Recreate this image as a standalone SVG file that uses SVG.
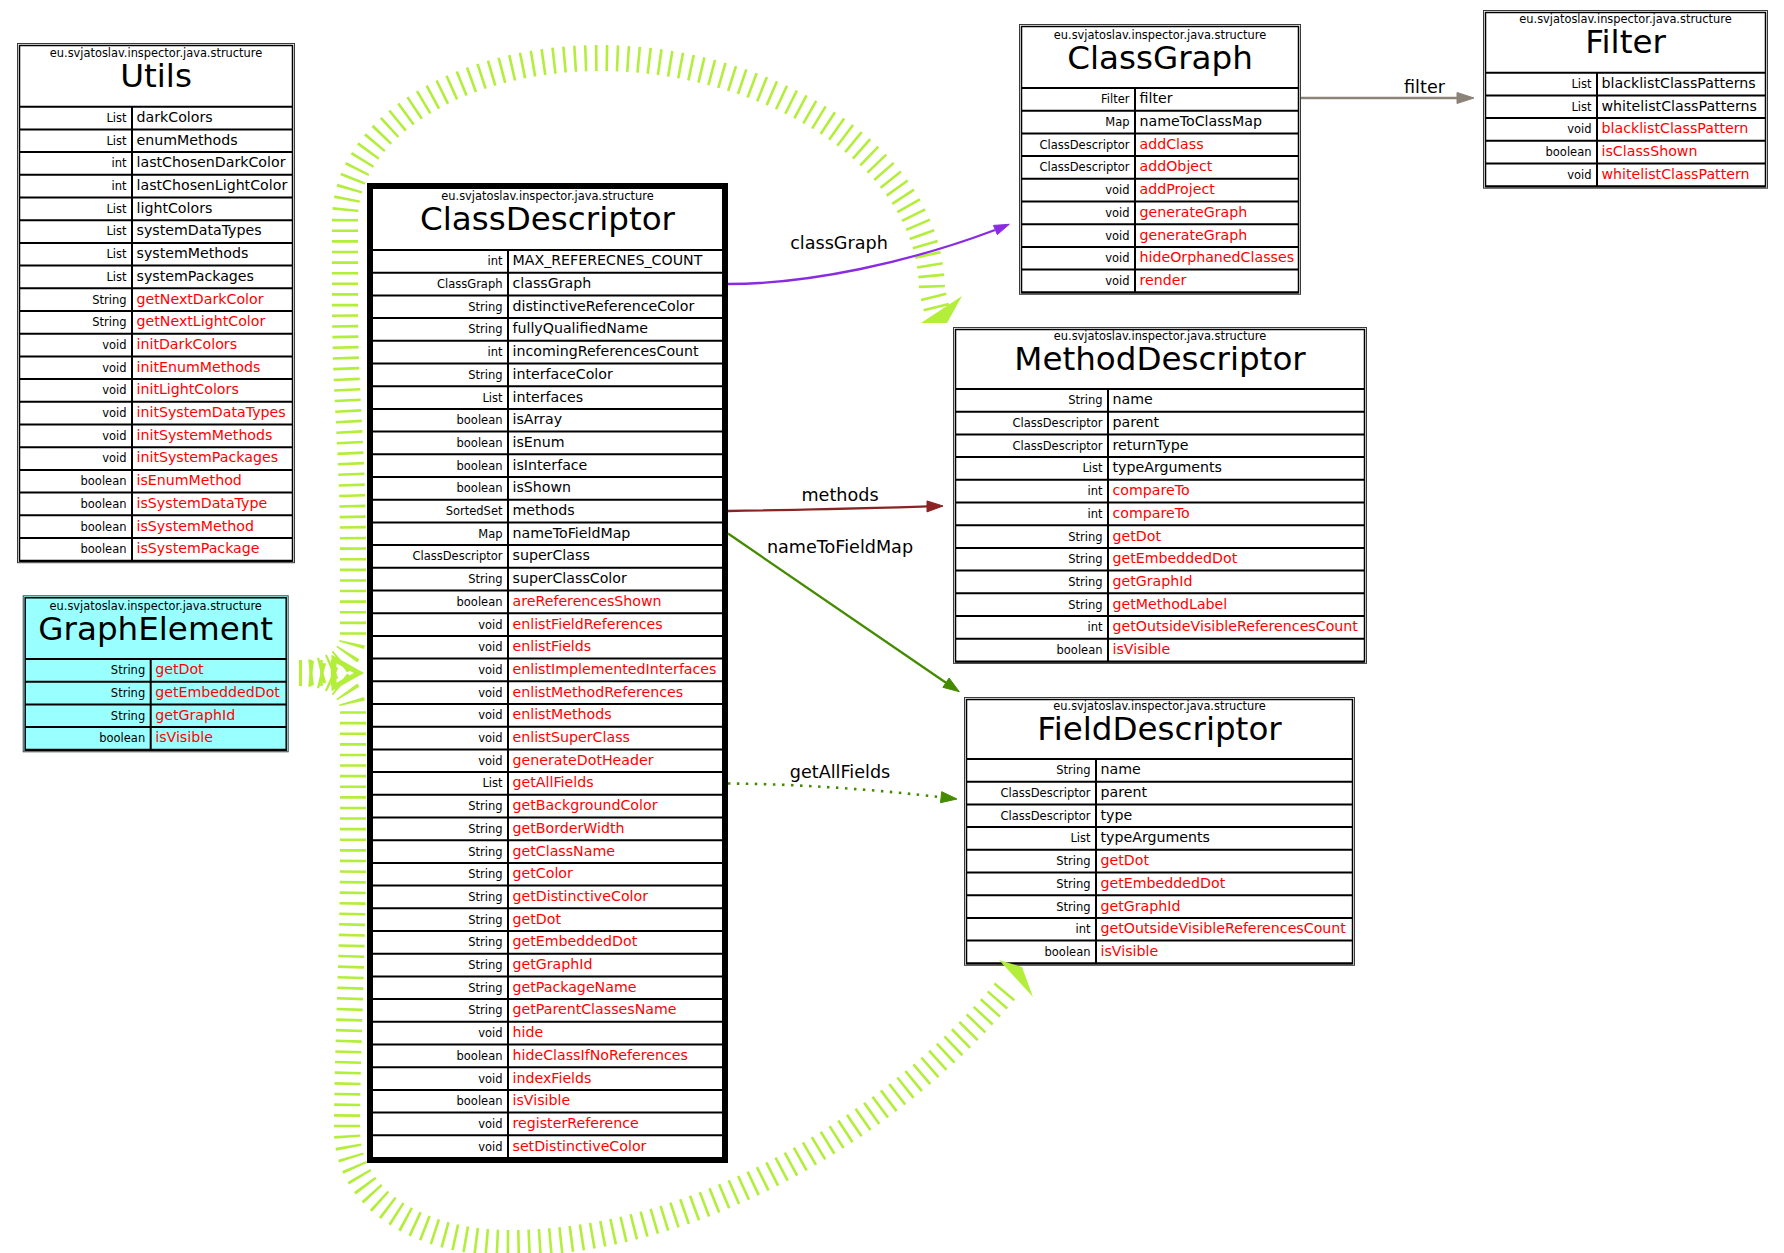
<svg xmlns="http://www.w3.org/2000/svg" width="1784" height="1253" viewBox="0 0 1784 1253">
<style>
text{font-family:"DejaVu Sans","Liberation Sans",sans-serif;fill:#000}
.pk{font-size:11.4px;text-anchor:middle}
.ti{font-size:32.6px;text-anchor:middle}
.ty{font-size:11.5px;text-anchor:end}
.nm{font-size:14.2px}
text.r{fill:#ff0000}
.ob{fill:none;stroke:#3a3a3a;stroke-width:1}
.ib{fill:none;stroke:#000;stroke-width:1.5}
.rl{fill:none;stroke:#000;stroke-width:2}
.el{font-size:17.6px;text-anchor:middle}
.ih{fill:none;stroke:#b3ee3a;stroke-width:26;stroke-dasharray:2.6 8}
.e{fill:none;stroke-width:2.3}
</style>
<rect width="1784" height="1253" fill="#fff"/>

<g id="node-utils" transform="translate(132,106.7)">
<rect class="ob" x="-114.5" y="-63.2" width="277" height="519.2"/>
<rect class="ib" x="-112.5" y="-61.2" width="273" height="515.7"/>
<path class="rl" d="M-112.5 0h273m-273 22.7h273m-273 22.7h273m-273 22.7h273m-273 22.7h273m-273 22.7h273m-273 22.7h273m-273 22.7h273m-273 22.7h273m-273 22.7h273m-273 22.7h273m-273 22.7h273m-273 22.7h273m-273 22.7h273m-273 22.7h273m-273 22.7h273m-273 22.7h273m-273 22.7h273m-273 22.7h273m-273 22.7h273m-273 22.7h273M0 0V454"/>
<text class="pk" x="24" y="-49.5">eu.svjatoslav.inspector.java.structure</text>
<text class="ti" x="24" y="-19.5">Utils</text>
<text class="ty" x="-5.5" y="15.3">List</text><text class="nm" x="4.5" y="15.3">darkColors</text>
<text class="ty" x="-5.5" y="38">List</text><text class="nm" x="4.5" y="38">enumMethods</text>
<text class="ty" x="-5.5" y="60.7">int</text><text class="nm" x="4.5" y="60.7">lastChosenDarkColor</text>
<text class="ty" x="-5.5" y="83.4">int</text><text class="nm" x="4.5" y="83.4">lastChosenLightColor</text>
<text class="ty" x="-5.5" y="106.1">List</text><text class="nm" x="4.5" y="106.1">lightColors</text>
<text class="ty" x="-5.5" y="128.8">List</text><text class="nm" x="4.5" y="128.8">systemDataTypes</text>
<text class="ty" x="-5.5" y="151.5">List</text><text class="nm" x="4.5" y="151.5">systemMethods</text>
<text class="ty" x="-5.5" y="174.2">List</text><text class="nm" x="4.5" y="174.2">systemPackages</text>
<text class="ty" x="-5.5" y="196.9">String</text><text class="nm r" x="4.5" y="196.9">getNextDarkColor</text>
<text class="ty" x="-5.5" y="219.6">String</text><text class="nm r" x="4.5" y="219.6">getNextLightColor</text>
<text class="ty" x="-5.5" y="242.3">void</text><text class="nm r" x="4.5" y="242.3">initDarkColors</text>
<text class="ty" x="-5.5" y="265">void</text><text class="nm r" x="4.5" y="265">initEnumMethods</text>
<text class="ty" x="-5.5" y="287.7">void</text><text class="nm r" x="4.5" y="287.7">initLightColors</text>
<text class="ty" x="-5.5" y="310.4">void</text><text class="nm r" x="4.5" y="310.4">initSystemDataTypes</text>
<text class="ty" x="-5.5" y="333.1">void</text><text class="nm r" x="4.5" y="333.1">initSystemMethods</text>
<text class="ty" x="-5.5" y="355.8">void</text><text class="nm r" x="4.5" y="355.8">initSystemPackages</text>
<text class="ty" x="-5.5" y="378.5">boolean</text><text class="nm r" x="4.5" y="378.5">isEnumMethod</text>
<text class="ty" x="-5.5" y="401.2">boolean</text><text class="nm r" x="4.5" y="401.2">isSystemDataType</text>
<text class="ty" x="-5.5" y="423.9">boolean</text><text class="nm r" x="4.5" y="423.9">isSystemMethod</text>
<text class="ty" x="-5.5" y="446.6">boolean</text><text class="nm r" x="4.5" y="446.6">isSystemPackage</text>
</g>

<g id="node-graphelement" transform="translate(150.7,659)">
<rect x="-127.5" y="-63.2" width="265" height="156" fill="#99ffff" stroke="#3a4a4a" stroke-width="1"/>
<rect class="ib" x="-125.5" y="-61.2" width="261" height="152.5"/>
<path class="rl" d="M-125.5 0h261m-261 22.7h261m-261 22.7h261m-261 22.7h261m-261 22.7h261M0 0V90.8"/>
<text class="pk" x="5" y="-49.5">eu.svjatoslav.inspector.java.structure</text>
<text class="ti" x="5" y="-19.5">GraphElement</text>
<text class="ty" x="-5.5" y="15.3">String</text><text class="nm r" x="4.5" y="15.3">getDot</text>
<text class="ty" x="-5.5" y="38">String</text><text class="nm r" x="4.5" y="38">getEmbeddedDot</text>
<text class="ty" x="-5.5" y="60.7">String</text><text class="nm r" x="4.5" y="60.7">getGraphId</text>
<text class="ty" x="-5.5" y="83.4">boolean</text><text class="nm r" x="4.5" y="83.4">isVisible</text>
</g>

<g id="node-classdescriptor" transform="translate(508,250)">
<rect x="-138" y="-64" width="355" height="974" fill="none" stroke="#000" stroke-width="6"/>
<path class="rl" d="M-135 0h349m-349 22.7h349m-349 22.7h349m-349 22.7h349m-349 22.7h349m-349 22.7h349m-349 22.7h349m-349 22.7h349m-349 22.7h349m-349 22.7h349m-349 22.7h349m-349 22.7h349m-349 22.7h349m-349 22.7h349m-349 22.7h349m-349 22.7h349m-349 22.7h349m-349 22.7h349m-349 22.7h349m-349 22.7h349m-349 22.7h349m-349 22.7h349m-349 22.7h349m-349 22.7h349m-349 22.7h349m-349 22.7h349m-349 22.7h349m-349 22.7h349m-349 22.7h349m-349 22.7h349m-349 22.7h349m-349 22.7h349m-349 22.7h349m-349 22.7h349m-349 22.7h349m-349 22.7h349m-349 22.7h349m-349 22.7h349m-349 22.7h349m-349 22.7h349m-349 22.7h349M0 0V908"/>
<text class="pk" x="39.5" y="-49.8">eu.svjatoslav.inspector.java.structure</text>
<text class="ti" x="39.5" y="-19.6">ClassDescriptor</text>
<text class="ty" x="-5.5" y="15.3">int</text><text class="nm" x="4.5" y="15.3">MAX_REFERECNES_COUNT</text>
<text class="ty" x="-5.5" y="38">ClassGraph</text><text class="nm" x="4.5" y="38">classGraph</text>
<text class="ty" x="-5.5" y="60.7">String</text><text class="nm" x="4.5" y="60.7">distinctiveReferenceColor</text>
<text class="ty" x="-5.5" y="83.4">String</text><text class="nm" x="4.5" y="83.4">fullyQualifiedName</text>
<text class="ty" x="-5.5" y="106.1">int</text><text class="nm" x="4.5" y="106.1">incomingReferencesCount</text>
<text class="ty" x="-5.5" y="128.8">String</text><text class="nm" x="4.5" y="128.8">interfaceColor</text>
<text class="ty" x="-5.5" y="151.5">List</text><text class="nm" x="4.5" y="151.5">interfaces</text>
<text class="ty" x="-5.5" y="174.2">boolean</text><text class="nm" x="4.5" y="174.2">isArray</text>
<text class="ty" x="-5.5" y="196.9">boolean</text><text class="nm" x="4.5" y="196.9">isEnum</text>
<text class="ty" x="-5.5" y="219.6">boolean</text><text class="nm" x="4.5" y="219.6">isInterface</text>
<text class="ty" x="-5.5" y="242.3">boolean</text><text class="nm" x="4.5" y="242.3">isShown</text>
<text class="ty" x="-5.5" y="265">SortedSet</text><text class="nm" x="4.5" y="265">methods</text>
<text class="ty" x="-5.5" y="287.7">Map</text><text class="nm" x="4.5" y="287.7">nameToFieldMap</text>
<text class="ty" x="-5.5" y="310.4">ClassDescriptor</text><text class="nm" x="4.5" y="310.4">superClass</text>
<text class="ty" x="-5.5" y="333.1">String</text><text class="nm" x="4.5" y="333.1">superClassColor</text>
<text class="ty" x="-5.5" y="355.8">boolean</text><text class="nm r" x="4.5" y="355.8">areReferencesShown</text>
<text class="ty" x="-5.5" y="378.5">void</text><text class="nm r" x="4.5" y="378.5">enlistFieldReferences</text>
<text class="ty" x="-5.5" y="401.2">void</text><text class="nm r" x="4.5" y="401.2">enlistFields</text>
<text class="ty" x="-5.5" y="423.9">void</text><text class="nm r" x="4.5" y="423.9">enlistImplementedInterfaces</text>
<text class="ty" x="-5.5" y="446.6">void</text><text class="nm r" x="4.5" y="446.6">enlistMethodReferences</text>
<text class="ty" x="-5.5" y="469.3">void</text><text class="nm r" x="4.5" y="469.3">enlistMethods</text>
<text class="ty" x="-5.5" y="492">void</text><text class="nm r" x="4.5" y="492">enlistSuperClass</text>
<text class="ty" x="-5.5" y="514.7">void</text><text class="nm r" x="4.5" y="514.7">generateDotHeader</text>
<text class="ty" x="-5.5" y="537.4">List</text><text class="nm r" x="4.5" y="537.4">getAllFields</text>
<text class="ty" x="-5.5" y="560.1">String</text><text class="nm r" x="4.5" y="560.1">getBackgroundColor</text>
<text class="ty" x="-5.5" y="582.8">String</text><text class="nm r" x="4.5" y="582.8">getBorderWidth</text>
<text class="ty" x="-5.5" y="605.5">String</text><text class="nm r" x="4.5" y="605.5">getClassName</text>
<text class="ty" x="-5.5" y="628.2">String</text><text class="nm r" x="4.5" y="628.2">getColor</text>
<text class="ty" x="-5.5" y="650.9">String</text><text class="nm r" x="4.5" y="650.9">getDistinctiveColor</text>
<text class="ty" x="-5.5" y="673.6">String</text><text class="nm r" x="4.5" y="673.6">getDot</text>
<text class="ty" x="-5.5" y="696.3">String</text><text class="nm r" x="4.5" y="696.3">getEmbeddedDot</text>
<text class="ty" x="-5.5" y="719">String</text><text class="nm r" x="4.5" y="719">getGraphId</text>
<text class="ty" x="-5.5" y="741.7">String</text><text class="nm r" x="4.5" y="741.7">getPackageName</text>
<text class="ty" x="-5.5" y="764.4">String</text><text class="nm r" x="4.5" y="764.4">getParentClassesName</text>
<text class="ty" x="-5.5" y="787.1">void</text><text class="nm r" x="4.5" y="787.1">hide</text>
<text class="ty" x="-5.5" y="809.8">boolean</text><text class="nm r" x="4.5" y="809.8">hideClassIfNoReferences</text>
<text class="ty" x="-5.5" y="832.5">void</text><text class="nm r" x="4.5" y="832.5">indexFields</text>
<text class="ty" x="-5.5" y="855.2">boolean</text><text class="nm r" x="4.5" y="855.2">isVisible</text>
<text class="ty" x="-5.5" y="877.9">void</text><text class="nm r" x="4.5" y="877.9">registerReference</text>
<text class="ty" x="-5.5" y="900.6">void</text><text class="nm r" x="4.5" y="900.6">setDistinctiveColor</text>
</g>

<g id="node-classgraph" transform="translate(1135,88)">
<rect class="ob" x="-115.5" y="-63.5" width="281" height="269.8"/>
<rect class="ib" x="-113.5" y="-61.5" width="277" height="266.3"/>
<path class="rl" d="M-113.5 0h277m-277 22.7h277m-277 22.7h277m-277 22.7h277m-277 22.7h277m-277 22.7h277m-277 22.7h277m-277 22.7h277m-277 22.7h277m-277 22.7h277M0 0V204.3"/>
<text class="pk" x="25" y="-49.5">eu.svjatoslav.inspector.java.structure</text>
<text class="ti" x="25" y="-19.5">ClassGraph</text>
<text class="ty" x="-5.5" y="15.3">Filter</text><text class="nm" x="4.5" y="15.3">filter</text>
<text class="ty" x="-5.5" y="38">Map</text><text class="nm" x="4.5" y="38">nameToClassMap</text>
<text class="ty" x="-5.5" y="60.7">ClassDescriptor</text><text class="nm r" x="4.5" y="60.7">addClass</text>
<text class="ty" x="-5.5" y="83.4">ClassDescriptor</text><text class="nm r" x="4.5" y="83.4">addObject</text>
<text class="ty" x="-5.5" y="106.1">void</text><text class="nm r" x="4.5" y="106.1">addProject</text>
<text class="ty" x="-5.5" y="128.8">void</text><text class="nm r" x="4.5" y="128.8">generateGraph</text>
<text class="ty" x="-5.5" y="151.5">void</text><text class="nm r" x="4.5" y="151.5">generateGraph</text>
<text class="ty" x="-5.5" y="174.2">void</text><text class="nm r" x="4.5" y="174.2">hideOrphanedClasses</text>
<text class="ty" x="-5.5" y="196.9">void</text><text class="nm r" x="4.5" y="196.9">render</text>
</g>

<g id="node-filter" transform="translate(1597,72.7)">
<rect class="ob" x="-113.5" y="-62.2" width="284" height="177.7"/>
<rect class="ib" x="-111.5" y="-60.2" width="280" height="174.2"/>
<path class="rl" d="M-111.5 0h280m-280 22.7h280m-280 22.7h280m-280 22.7h280m-280 22.7h280m-280 22.7h280M0 0V113.5"/>
<text class="pk" x="28.5" y="-49.5">eu.svjatoslav.inspector.java.structure</text>
<text class="ti" x="28.5" y="-19.5">Filter</text>
<text class="ty" x="-5.5" y="15.3">List</text><text class="nm" x="4.5" y="15.3">blacklistClassPatterns</text>
<text class="ty" x="-5.5" y="38">List</text><text class="nm" x="4.5" y="38">whitelistClassPatterns</text>
<text class="ty" x="-5.5" y="60.7">void</text><text class="nm r" x="4.5" y="60.7">blacklistClassPattern</text>
<text class="ty" x="-5.5" y="83.4">boolean</text><text class="nm r" x="4.5" y="83.4">isClassShown</text>
<text class="ty" x="-5.5" y="106.1">void</text><text class="nm r" x="4.5" y="106.1">whitelistClassPattern</text>
</g>

<g id="node-methoddescriptor" transform="translate(1108,389)">
<rect class="ob" x="-154.5" y="-61.5" width="413" height="335.9"/>
<rect class="ib" x="-152.5" y="-59.5" width="409" height="332.4"/>
<path class="rl" d="M-152.5 0h409m-409 22.7h409m-409 22.7h409m-409 22.7h409m-409 22.7h409m-409 22.7h409m-409 22.7h409m-409 22.7h409m-409 22.7h409m-409 22.7h409m-409 22.7h409m-409 22.7h409m-409 22.7h409M0 0V272.4"/>
<text class="pk" x="52" y="-49.5">eu.svjatoslav.inspector.java.structure</text>
<text class="ti" x="52" y="-19.5">MethodDescriptor</text>
<text class="ty" x="-5.5" y="15.3">String</text><text class="nm" x="4.5" y="15.3">name</text>
<text class="ty" x="-5.5" y="38">ClassDescriptor</text><text class="nm" x="4.5" y="38">parent</text>
<text class="ty" x="-5.5" y="60.7">ClassDescriptor</text><text class="nm" x="4.5" y="60.7">returnType</text>
<text class="ty" x="-5.5" y="83.4">List</text><text class="nm" x="4.5" y="83.4">typeArguments</text>
<text class="ty" x="-5.5" y="106.1">int</text><text class="nm r" x="4.5" y="106.1">compareTo</text>
<text class="ty" x="-5.5" y="128.8">int</text><text class="nm r" x="4.5" y="128.8">compareTo</text>
<text class="ty" x="-5.5" y="151.5">String</text><text class="nm r" x="4.5" y="151.5">getDot</text>
<text class="ty" x="-5.5" y="174.2">String</text><text class="nm r" x="4.5" y="174.2">getEmbeddedDot</text>
<text class="ty" x="-5.5" y="196.9">String</text><text class="nm r" x="4.5" y="196.9">getGraphId</text>
<text class="ty" x="-5.5" y="219.6">String</text><text class="nm r" x="4.5" y="219.6">getMethodLabel</text>
<text class="ty" x="-5.5" y="242.3">int</text><text class="nm r" x="4.5" y="242.3">getOutsideVisibleReferencesCount</text>
<text class="ty" x="-5.5" y="265">boolean</text><text class="nm r" x="4.5" y="265">isVisible</text>
</g>

<g id="node-fielddescriptor" transform="translate(1096,759)">
<rect class="ob" x="-131.5" y="-61.5" width="390" height="267.8"/>
<rect class="ib" x="-129.5" y="-59.5" width="386" height="264.3"/>
<path class="rl" d="M-129.5 0h386m-386 22.7h386m-386 22.7h386m-386 22.7h386m-386 22.7h386m-386 22.7h386m-386 22.7h386m-386 22.7h386m-386 22.7h386m-386 22.7h386M0 0V204.3"/>
<text class="pk" x="63.5" y="-49.5">eu.svjatoslav.inspector.java.structure</text>
<text class="ti" x="63.5" y="-19.5">FieldDescriptor</text>
<text class="ty" x="-5.5" y="15.3">String</text><text class="nm" x="4.5" y="15.3">name</text>
<text class="ty" x="-5.5" y="38">ClassDescriptor</text><text class="nm" x="4.5" y="38">parent</text>
<text class="ty" x="-5.5" y="60.7">ClassDescriptor</text><text class="nm" x="4.5" y="60.7">type</text>
<text class="ty" x="-5.5" y="83.4">List</text><text class="nm" x="4.5" y="83.4">typeArguments</text>
<text class="ty" x="-5.5" y="106.1">String</text><text class="nm r" x="4.5" y="106.1">getDot</text>
<text class="ty" x="-5.5" y="128.8">String</text><text class="nm r" x="4.5" y="128.8">getEmbeddedDot</text>
<text class="ty" x="-5.5" y="151.5">String</text><text class="nm r" x="4.5" y="151.5">getGraphId</text>
<text class="ty" x="-5.5" y="174.2">int</text><text class="nm r" x="4.5" y="174.2">getOutsideVisibleReferencesCount</text>
<text class="ty" x="-5.5" y="196.9">boolean</text><text class="nm r" x="4.5" y="196.9">isVisible</text>
</g>

<g id="connectors">
<path class="ih" d="M299,673 H336"/>
<polygon points="334,659 359,673 334,687" fill="none" stroke="#b3ee3a" stroke-width="5"/>
<path class="ih" d="M299,673 C330,673 353,660 353,635 L353,556 C353,450 345,400 345,300 L345,220 C345,125 465,58 600,58 C760,58 930,150 932,290 L937,310"/>
<polygon points="921,323 962,296 947,323" fill="#b3ee3a"/>
<path class="ih" d="M299,673 C330,673 353,686 353,711 L353,850 C353,950 347,1050 347,1130 C347,1200 420,1243 510,1243 C700,1243 900,1120 1010,985"/>
<polygon points="999,960 1022,967 1033,997" fill="#b3ee3a"/>

<path class="e" stroke="#8a2be2" d="M728,284 C810,284 910,262 995,230"/>
<polygon points="997.3,234.6 1009.3,224.3 993.5,225.4" fill="#8a2be2" stroke="#8a2be2" stroke-width="1"/>
<text class="el" x="839" y="249">classGraph</text>

<path class="e" stroke="#8b2323" d="M728,511 C800,510 870,508 927,506.4"/>
<polygon points="927,511.9 943,506 927,500.9" fill="#8b2323" stroke="#8b2323" stroke-width="1"/>
<text class="el" x="840" y="501">methods</text>

<path class="e" stroke="#458b00" d="M728,533.5 L946,682.7"/>
<polygon points="942.9,687.3 959.3,691.7 949.1,678.1" fill="#458b00" stroke="#458b00" stroke-width="1"/>
<text class="el" x="840" y="552.7">nameToFieldMap</text>

<path fill="none" stroke="#458b00" stroke-width="2.6" stroke-dasharray="2.5 6.5" d="M728,783.5 C800,784 880,790 941,797.2"/>
<polygon points="940.5,802.7 957,799 941.7,791.7" fill="#458b00" stroke="#458b00" stroke-width="1"/>
<text class="el" x="840" y="778">getAllFields</text>

<path class="e" stroke="#8b8378" d="M1301,98 H1457"/>
<polygon points="1457,92.5 1474,98 1457,103.5" fill="#8b8378" stroke="#8b8378" stroke-width="1"/>
<text class="el" x="1424.5" y="93">filter</text>
</g>
</svg>
